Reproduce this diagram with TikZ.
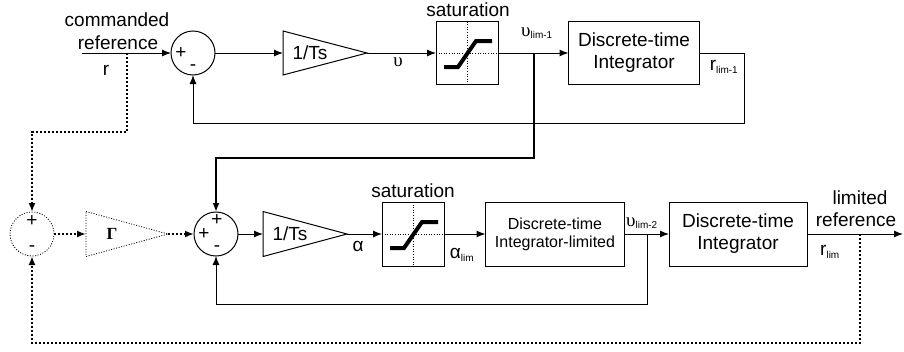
\documentclass[tikz,border=0pt]{standalone}
\usepackage{fontspec}
\setmainfont{Liberation Sans}
\newfontfamily\grserif{Liberation Serif}
\usetikzlibrary{arrows.meta}
\tikzset{
  sumnode/.style={circle, draw, minimum size=44pt, inner sep=0pt, outer sep=0pt},
  gainnode/.style={minimum width=84pt, minimum height=44pt, inner sep=0pt, outer sep=0pt},
  blocknode/.style={rectangle, draw, inner sep=0pt, outer sep=0pt, align=center},
  arr/.style={-{Latex[length=9pt,width=7pt]}},
  dotline/.style={line width=2.5pt, dash pattern=on 2.2pt off 1.8pt},
  thinDots/.style={line width=0.8pt, dash pattern=on 1pt off 1.6pt},
  bigtxt/.style={font=\fontsize{19}{22}\selectfont},
  smalltxt/.style={font=\fontsize{16}{18}\selectfont},
  sign/.style={font=\fontsize{19}{19}\selectfont, inner sep=0pt}
}
\newcommand{\lsub}[1]{\textsubscript{\fontsize{10}{10}\selectfont #1}}
\newcommand{\ups}{{\grserif υ}}
\newcommand{\satcurve}[1]{
  \draw[thinDots] (#1.north) -- (#1.south);
  \draw[thinDots] (#1.west) -- (#1.east);
  \draw[line width=4pt, shift={(#1.center)}] (-23,14) -- (-9,14) -- (9,-12) -- (25,-12);
}
\newcommand{\gaintri}[1]{
  \draw (#1.north west) -- (#1.east) -- (#1.south west) -- cycle;
}
\begin{document}
\begin{tikzpicture}[x=1pt,y=-1pt,line width=1pt]
  \useasboundingbox (0,0) rectangle (904,351);

  % upper loop
  \coordinate (rin) at (82,53);
  \coordinate (rtap) at (127,53);
  \coordinate (rbend) at (127,132);
  \node[sumnode] (sumtop) at (193,53) {};
  \node[gainnode] (gaintop) at (325,53) {};
  \node[blocknode, minimum width=62pt, minimum height=63pt] (sattop) at (467,53) {};
  \coordinate (vtap) at (534,53);
  \coordinate (vbend) at (534,158);
  \node[blocknode, bigtxt, minimum width=131pt, minimum height=63pt] (inttop) at (634,53) {Discrete-time\\Integrator};
  \coordinate (fbtop) at (744,123);

  \gaintri{gaintop}
  \satcurve{sattop}

  \node[bigtxt] (cmdA) at (117,20) {commanded};
  \node[bigtxt] (cmdB) at (118,43) {reference};
  \node[bigtxt] (rlbl) at (106,70) {r};
  \node[sign] (sumtopP) at (181,53) {+};
  \node[sign] (sumtopM) at (193,68) {-};
  \node[bigtxt] (gaintopT) at (310,53) {1/Ts};
  \node[bigtxt] (ulbl) at (398,62) {\ups};
  \node[bigtxt] (sattopT) at (468,10) {saturation};
  \node[bigtxt] (ulimA) at (537,33) {\ups\lsub{lim-1}};
  \node[bigtxt] (rlimA) at (724,67) {r\lsub{lim-1}};

  \draw[arr] (rin) -- (sumtop);
  \draw[arr] (sumtop) -- (gaintop.west);
  \draw[arr] (gaintop.east) -- (sattop);
  \draw[arr] (sattop) -- (inttop);
  \draw[arr] (inttop) -| (fbtop) -| (sumtop);

  % lower loop
  \node[sumnode, thinDots] (sumgam) at (32,234) {};
  \node[gainnode, minimum width=82pt, minimum height=45pt] (gam) at (127,234) {};
  \node[sumnode] (sumbot) at (216,234) {};
  \node[gainnode, minimum height=45pt] (gainbot) at (305,234) {};
  \node[blocknode, minimum width=62pt, minimum height=64pt] (satbot) at (413,234) {};
  \node[blocknode, smalltxt, minimum width=139pt, minimum height=64pt] (intlim) at (555,234) {Discrete-time\\Integrator-limited};
  \coordinate (vtap2) at (647,234);
  \coordinate (vbend2) at (647,304);
  \node[blocknode, bigtxt, minimum width=138pt, minimum height=64pt] (intbot) at (738,234) {Discrete-time\\Integrator};
  \coordinate (rtap2) at (860,234);
  \coordinate (rbend2) at (860,343);
  \coordinate (rout) at (903,234);

  \draw[thinDots] (gam.north west) -- (gam.east) -- (gam.south west) -- cycle;
  \gaintri{gainbot}
  \satcurve{satbot}

  \node[sign] (sumgamP) at (32,221) {+};
  \node[sign] (sumgamM) at (32,249) {-};
  \node[font=\fontsize{17}{17}\selectfont\grserif\bfseries] (gamT) at (112,234) {Γ};
  \node[sign] (sumbotL) at (204,234) {+};
  \node[sign] (sumbotT) at (217,220) {+};
  \node[sign] (sumbotM) at (217,249) {-};
  \node[bigtxt] (gainbotT) at (290,234) {1/Ts};
  \node[bigtxt] (albl) at (358,246) {α};
  \node[bigtxt] (satbotT) at (413,191) {saturation};
  \node[bigtxt] (alim) at (462,255) {α\lsub{lim}};
  \node[bigtxt] (ulimB) at (642,223) {\ups\lsub{lim-2}};
  \node[bigtxt] (limA) at (860,198) {limited};
  \node[bigtxt] (limB) at (856,220) {reference};
  \node[bigtxt] (rlimB) at (830,252) {r\lsub{lim}};

  \draw[arr, line width=2.6pt] (vtap) -- (vbend) -| (sumbot);
  \draw[dotline, arr] (rtap) -- (rbend) -| (sumgam);
  \draw[dotline, arr] (sumgam) -- (gam.west);
  \draw[dotline, arr] (gam.east) -- (sumbot);
  \draw[arr] (sumbot) -- (gainbot.west);
  \draw[arr] (gainbot.east) -- (satbot);
  \draw[arr] (satbot) -- (intlim);
  \draw[arr] (intlim) -- (intbot);
  \draw[arr] (intbot) -- (rout);
  \draw[arr] (vtap2) -- (vbend2) -| (sumbot);
  \draw[dotline, arr] (rtap2) -- (rbend2) -| (sumgam);
\end{tikzpicture}
\end{document}
